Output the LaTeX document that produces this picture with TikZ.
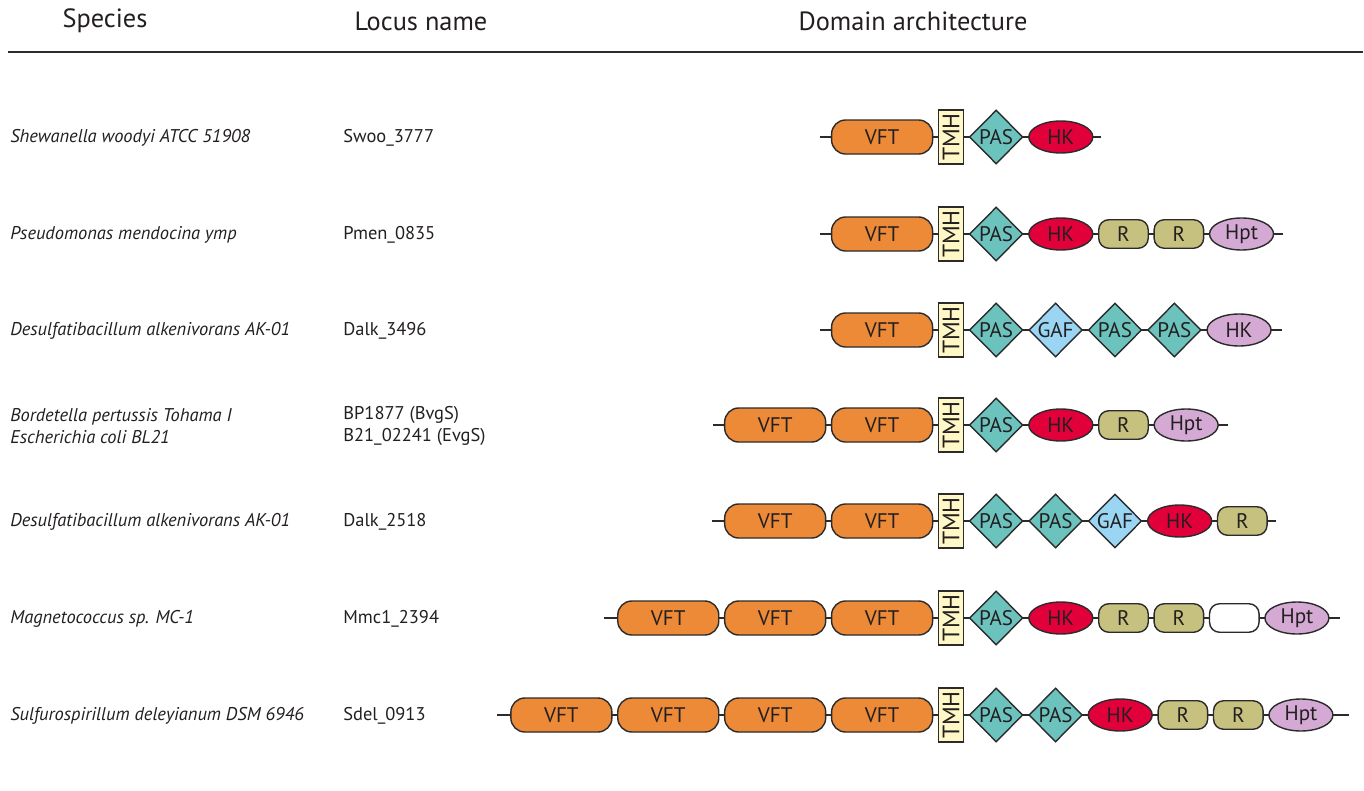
\documentclass[tikz,border=0pt]{standalone}
\usepackage{fontspec}
\setmainfont{PT Sans}
\usepackage{tikz}
\usetikzlibrary{positioning,shapes.geometric,backgrounds}

\definecolor{vftclr}{HTML}{ED8A37}
\definecolor{tmhclr}{HTML}{FFF8C6}
\definecolor{pasclr}{HTML}{6CC3BE}
\definecolor{gafclr}{HTML}{9AD6F4}
\definecolor{hkclr}{HTML}{E2003B}
\definecolor{recclr}{HTML}{C7C17F}
\definecolor{hptclr}{HTML}{D4AAD4}
\definecolor{linclr}{HTML}{2B2B2B}
\definecolor{txtclr}{HTML}{231F20}

\tikzset{
    dom/.style={draw=linclr, line width=0.8pt, inner sep=0pt, text=txtclr,
        font=\fontsize{12}{14}\selectfont},
    vft/.style={dom, rectangle, rounded corners=0.28cm, fill=vftclr,
        minimum width=2.02cm, minimum height=0.68cm},
    tmh/.style={dom, rectangle, fill=tmhclr, minimum width=0.5cm, minimum height=1.08cm,
        font=\fontsize{13.5}{14}\selectfont},
    pas/.style={dom, diamond, fill=pasclr, minimum width=1.07cm, minimum height=1.08cm},
    gaf/.style={pas, fill=gafclr},
    hk/.style={dom, ellipse, fill=hkclr, minimum width=1.28cm, minimum height=0.64cm},
    hpt/.style={hk, fill=hptclr},
    rec/.style={dom, rectangle, rounded corners=0.2cm, fill=recclr,
        minimum width=0.99cm, minimum height=0.57cm},
    blank/.style={rec, fill=white},
    spc/.style={anchor=west, inner sep=0pt, text=txtclr, align=left,
        font=\fontsize{10.5}{12.2}\selectfont\itshape},
    loc/.style={anchor=west, inner sep=0pt, text=txtclr, align=left,
        font=\fontsize{10.5}{12.2}\selectfont},
    hdr/.style={inner sep=0pt, text=txtclr, font=\fontsize{15}{17}\selectfont},
    bbone/.style={draw=linclr, line width=1.1pt}
}

\begin{document}
\begin{tikzpicture}[node distance=0.09cm]
    \useasboundingbox (0,0) rectangle (27.28,-15.82);

    % header
    \node[hdr] (hspc) at (2.1,-0.42) {Species};
    \node[hdr] (hloc) at (8.42,-0.42) {Locus name};
    \node[hdr] (hdom) at (18.26,-0.42) {Domain architecture};
    \draw[linclr, line width=1.1pt] (0.16,-1.04) -- (27.26,-1.04);

    % species and loci
    \node[spc] (sp1) at (0.2,-2.76) {Shewanella woodyi ATCC 51908};
    \node[loc] (lc1) at (6.86,-2.76) {Swoo\_3777};
    \node[spc] (sp2) at (0.2,-4.7) {Pseudomonas mendocina ymp};
    \node[loc] (lc2) at (6.86,-4.7) {Pmen\_0835};
    \node[spc] (sp3) at (0.2,-6.62) {Desulfatibacillum alkenivorans AK-01};
    \node[loc] (lc3) at (6.86,-6.62) {Dalk\_3496};
    \node[spc] (sp4) at (0.2,-8.52) {Bordetella pertussis Tohama I\\Escherichia coli BL21};
    \node[loc] (lc4) at (6.86,-8.52) {BP1877 (BvgS)\\B21\_02241 (EvgS)};
    \node[spc] (sp5) at (0.2,-10.44) {Desulfatibacillum alkenivorans AK-01};
    \node[loc] (lc5) at (6.86,-10.44) {Dalk\_2518};
    \node[spc] (sp6) at (0.2,-12.38) {Magnetococcus sp. MC-1};
    \node[loc] (lc6) at (6.86,-12.38) {Mmc1\_2394};
    \node[spc] (sp7) at (0.2,-14.32) {Sulfurospirillum deleyianum DSM 6946};
    \node[loc] (lc7) at (6.86,-14.32) {Sdel\_0913};

    % row 1
    \node[tmh] (t1) at (19.02,-2.74) {\rotatebox{90}{TMH}};
    \node[vft, left=of t1] (v1a) {VFT};
    \node[pas, right=of t1] (p1a) {PAS};
    \node[hk, right=of p1a] (k1) {HK};
    \coordinate[left=0.22cm of v1a] (s1);
    \coordinate[right=0.14cm of k1] (e1);

    % row 2
    \node[tmh] (t2) at (19.02,-4.68) {\rotatebox{90}{TMH}};
    \node[vft, left=of t2] (v2a) {VFT};
    \node[pas, right=of t2] (p2a) {PAS};
    \node[hk, right=of p2a] (k2) {HK};
    \node[rec, right=of k2] (r2a) {R};
    \node[rec, right=of r2a] (r2b) {R};
    \node[hpt, right=of r2b] (h2) {Hpt};
    \coordinate[left=0.22cm of v2a] (s2);
    \coordinate[right=0.18cm of h2] (e2);

    % row 3
    \node[tmh] (t3) at (19.02,-6.6) {\rotatebox{90}{TMH}};
    \node[vft, left=of t3] (v3a) {VFT};
    \node[pas, right=of t3] (p3a) {PAS};
    \node[gaf, right=of p3a] (g3) {GAF};
    \node[pas, right=of g3] (p3b) {PAS};
    \node[pas, right=of p3b] (p3c) {PAS};
    \node[hpt, right=of p3c] (k3) {HK};
    \coordinate[left=0.22cm of v3a] (s3);
    \coordinate[right=0.2cm of k3] (e3);

    % row 4
    \node[tmh] (t4) at (19.02,-8.5) {\rotatebox{90}{TMH}};
    \node[vft, left=of t4] (v4b) {VFT};
    \node[vft, left=of v4b] (v4a) {VFT};
    \node[pas, right=of t4] (p4a) {PAS};
    \node[hk, right=of p4a] (k4) {HK};
    \node[rec, right=of k4] (r4a) {R};
    \node[hpt, right=of r4a] (h4) {Hpt};
    \coordinate[left=0.22cm of v4a] (s4);
    \coordinate[right=0.18cm of h4] (e4);

    % row 5
    \node[tmh] (t5) at (19.02,-10.42) {\rotatebox{90}{TMH}};
    \node[vft, left=of t5] (v5b) {VFT};
    \node[vft, left=of v5b] (v5a) {VFT};
    \node[pas, right=of t5] (p5a) {PAS};
    \node[pas, right=of p5a] (p5b) {PAS};
    \node[gaf, right=of p5b] (g5) {GAF};
    \node[hk, right=of g5] (k5) {HK};
    \node[rec, right=of k5] (r5a) {R};
    \coordinate[left=0.24cm of v5a] (s5);
    \coordinate[right=0.16cm of r5a] (e5);

    % row 6
    \node[tmh] (t6) at (19.02,-12.36) {\rotatebox{90}{TMH}};
    \node[vft, left=of t6] (v6c) {VFT};
    \node[vft, left=of v6c] (v6b) {VFT};
    \node[vft, left=of v6b] (v6a) {VFT};
    \node[pas, right=of t6] (p6a) {PAS};
    \node[hk, right=of p6a] (k6) {HK};
    \node[rec, right=of k6] (r6a) {R};
    \node[rec, right=of r6a] (r6b) {R};
    \node[blank, right=of r6b] (x6) {};
    \node[hpt, right=of x6] (h6) {Hpt};
    \coordinate[left=0.26cm of v6a] (s6);
    \coordinate[right=0.2cm of h6] (e6);

    % row 7
    \node[tmh] (t7) at (19.02,-14.3) {\rotatebox{90}{TMH}};
    \node[vft, left=of t7] (v7d) {VFT};
    \node[vft, left=of v7d] (v7c) {VFT};
    \node[vft, left=of v7c] (v7b) {VFT};
    \node[vft, left=of v7b] (v7a) {VFT};
    \node[pas, right=of t7] (p7a) {PAS};
    \node[pas, right=of p7a] (p7b) {PAS};
    \node[hk, right=of p7b] (k7) {HK};
    \node[rec, right=of k7] (r7a) {R};
    \node[rec, right=of r7a] (r7b) {R};
    \node[hpt, right=of r7b] (h7) {Hpt};
    \coordinate[left=0.26cm of v7a] (s7);
    \coordinate[right=0.3cm of h7] (e7);

    % backbones
    \begin{scope}[on background layer]
        \foreach \i in {1,...,7}
            \draw[bbone] (s\i) -- (e\i);
    \end{scope}
\end{tikzpicture}
\end{document}
